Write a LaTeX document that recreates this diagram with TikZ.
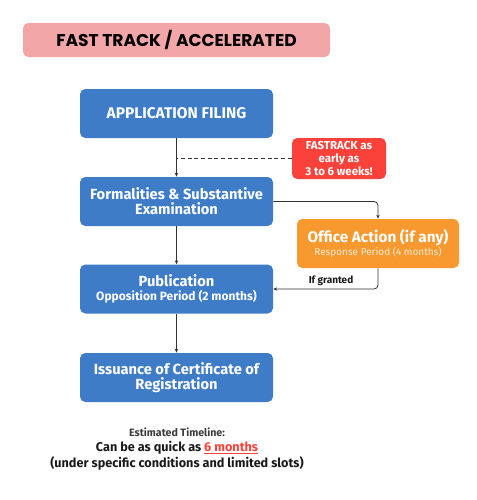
\documentclass[tikz,border=0pt]{standalone}
\usepackage{fontspec}
\setmainfont{Fira Sans}
\newfontfamily\titlefont{Poppins}
\usetikzlibrary{arrows.meta}
\definecolor{boxblue}{HTML}{3E7CC8}
\definecolor{fastred}{HTML}{FA423B}
\definecolor{actorange}{HTML}{F7992F}
\definecolor{titlepink}{HTML}{F2A6A7}
\definecolor{linegray}{HTML}{333333}
\definecolor{textdark}{HTML}{1A1A1A}
\begin{document}
\begin{tikzpicture}[x=0.75pt,y=-0.75pt,
  stepbox/.style={draw=none,fill=boxblue,rounded corners=4pt,text=white,font=\bfseries\fontsize{11}{12.5}\selectfont,align=center,minimum width=193*0.75pt,minimum height=49*0.75pt,inner sep=0pt},
  flow/.style={draw=linegray,line width=0.6pt,-{Stealth[length=3pt,width=2.5pt]}}]
\useasboundingbox (0,0) rectangle (477,500);
\fill[white] (0,0) rectangle (477,500);
% title
\node[fill=titlepink,rounded corners=4pt,minimum width=307*0.75pt,minimum height=34*0.75pt,inner sep=0pt,font=\titlefont\bfseries\fontsize{12.8}{14}\selectfont,text=black] (title) at (176.5,40) {FAST TRACK / ACCELERATED};
% main boxes
\node[stepbox,font=\bfseries\fontsize{11.6}{13}\selectfont] (app) at (176.5,113.5) {APPLICATION FILING};
\node[stepbox] (form) at (176.5,201.5) {Formalities \& Substantive\\[-1pt]Examination};
\node[stepbox] (pub) at (176.5,289) {Publication\\[-2.5pt]{\fontsize{9}{10}\selectfont Opposition Period (2 months)}};
\node[stepbox] (iss) at (176.5,377.5) {Issuance of Certificate of\\[-1pt]Registration};
% fast track note
\node[fill=fastred,rounded corners=4pt,minimum width=94*0.75pt,minimum height=41*0.75pt,inner sep=0pt,text=white,align=center,font=\bfseries\fontsize{8.6}{9.4}\selectfont] (fast) at (339,158.5) {FASTRACK as\\early as\\3 to 6 weeks!};
% office action
\node[fill=actorange,rounded corners=4pt,minimum width=162*0.75pt,minimum height=49*0.75pt,inner sep=0pt,text=white,align=center,font=\bfseries\fontsize{11.5}{12.5}\selectfont] (oa) at (378,243.5) {Office Action (if any)\\[-3pt]{\mdseries\fontsize{7.5}{9}\selectfont\color{white!80!actorange}Response Period (4 months)}};
% connectors
\draw[flow] (app) -- (form);
\coordinate (dashend) at (176.5,158.5);
\draw[linegray,line width=0.6pt,densely dashed] (fast.west) -- (dashend);
\draw[flow] (form) -- (pub);
\draw[flow] (pub) -- (iss);
\draw[flow,rounded corners=3pt] (form.east) -| (oa.north);
\draw[flow,rounded corners=3pt] (oa.south) |- (pub.east);
\node[font=\bfseries\fontsize{7.5}{8.5}\selectfont,text=textdark] (granted) at (331,281) {If granted};
% bottom texts
\node[font=\bfseries\fontsize{8}{9}\selectfont,text=textdark!85] (est) at (177,432) {Estimated Timeline:};
\node[font=\bfseries\fontsize{9.5}{11}\selectfont,text=textdark] (quick) at (177,447.5) {Can be as quick as \textcolor{fastred}{\underline{6 months}}};
\node[font=\bfseries\fontsize{9.5}{11}\selectfont,text=textdark] (cond) at (177,463.5) {(under specific conditions and limited slots)};
\end{tikzpicture}
\end{document}
